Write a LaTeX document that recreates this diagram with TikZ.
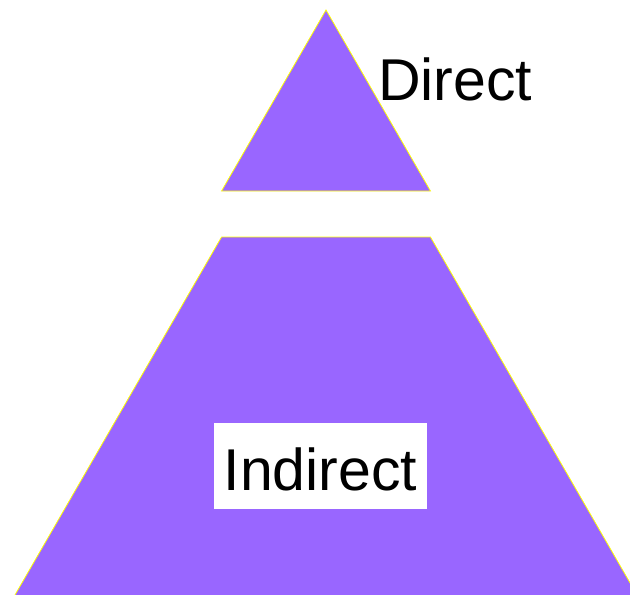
\documentclass[tikz,border=0pt]{standalone}
\usepackage{fontspec}
\setmainfont{Liberation Sans}
\usetikzlibrary{positioning,calc}
\definecolor{pyrFill}{HTML}{9966FF}
\definecolor{pyrEdge}{HTML}{FFFF00}

\begin{document}
\begin{tikzpicture}[x=1pt, y=-1pt,
  tier/.style={fill=pyrFill, draw=pyrEdge, line width=0.8pt, line join=miter},
  tierlabel/.style={font=\fontsize{59}{70}\selectfont, text=black, inner sep=0pt}]

%% CANVAS ==============================================================
\useasboundingbox (0,0) rectangle (630,595);
\clip (0,0) rectangle (630,595);

% --- GEOMETRY ---
\def\midX{326}      % axis of the pyramid
\def\apexY{10}      % tip of the top piece
\def\topBase{191}   % base of the top piece
\def\lowTop{237}    % top edge of the lower piece
\def\lowBase{600}   % below the page edge
\def\run{0.577}     % horizontal run per unit drop

\pgfmathsetmacro\halfA{\run * (\topBase - \apexY)}
\pgfmathsetmacro\halfB{\halfA + \run * (\lowBase - \lowTop)}

% --- TOP PIECE: Direct ---
\coordinate (apex) at (\midX, \apexY);
\draw[tier] (apex) -- (\midX + \halfA, \topBase)
  -- (\midX - \halfA, \topBase) -- cycle;

% --- LOWER PIECE: Indirect ---
\draw[tier] (\midX - \halfA, \lowTop) -- (\midX + \halfA, \lowTop)
  -- (\midX + \halfB, \lowBase) -- (\midX - \halfB, \lowBase) -- cycle;

% --- LABELS ---
\node[tierlabel, anchor=base west] (direct) at (378, 100) {Direct};
\node[tierlabel, anchor=base, fill=white, text height=48pt, text depth=0pt,
  inner xsep=10pt, inner ysep=19pt, minimum width=213pt]
  (indirect) at (320.5, 490) {Indirect};

\end{tikzpicture}
\end{document}
